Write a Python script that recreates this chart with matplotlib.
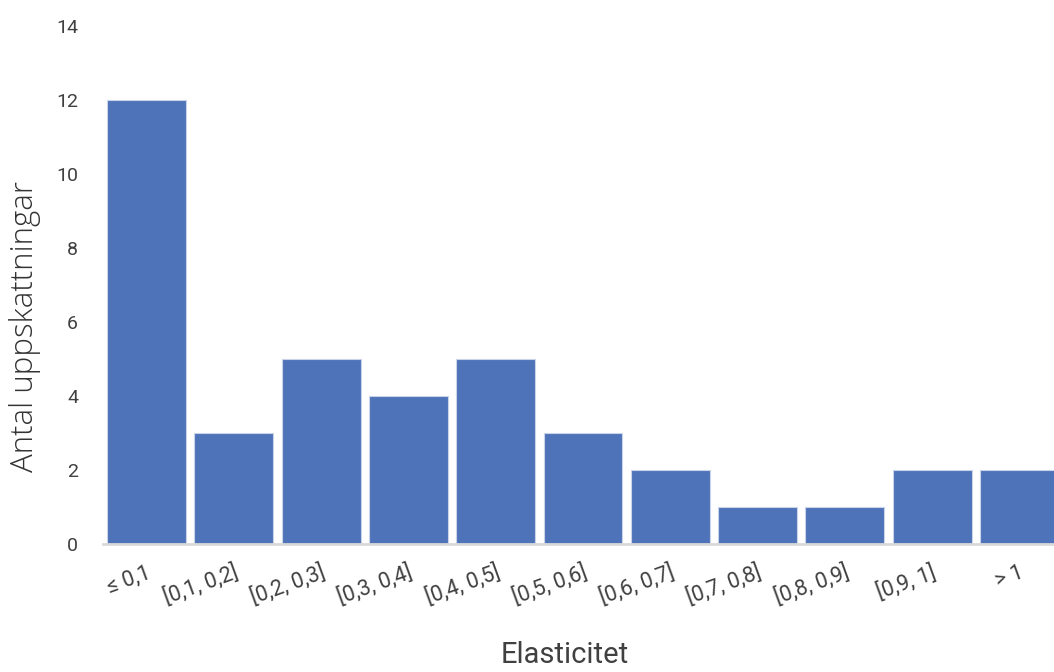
import matplotlib.pyplot as plt
import numpy as np

categories = ['≤ 0,1', '[0,1, 0,2]', '[0,2, 0,3]', '[0,3, 0,4]', '[0,4, 0,5]',
              '[0,5, 0,6]', '[0,6, 0,7]', '[0,7, 0,8]', '[0,8, 0,9]', '[0,9, 1]', '> 1']
counts = [12, 3, 5, 4, 5, 3, 2, 1, 1, 2, 2]

plt.rcParams['font.family'] = ['Roboto', 'DejaVu Sans']
txt = '#404040'

W, H = 1054, 672
fig = plt.figure(figsize=(W / 100, H / 100), dpi=100)
# plot area runs a bit past the right edge, so the last bar is cut off like in the original
left, right, bottom, top = 103, 1063, 544, 26
ax = fig.add_axes([left / W, 1 - bottom / H, (right - left) / W, (bottom - top) / H])

x = np.arange(len(categories))
ax.bar(x, counts, width=0.905, color='#4e73b8', edgecolor='#c9d3ea', linewidth=0.8, zorder=2)

ax.set_xlim(-0.5, len(categories) - 0.5)
ax.set_ylim(0, 14)
ax.set_yticks(range(0, 15, 2))
ax.tick_params(axis='y', length=0, pad=18, labelsize=14, labelcolor=txt)
ax.set_xticks(x)
ax.set_xticklabels(categories, rotation=20, ha='right', rotation_mode='anchor',
                   fontsize=15.5, color=txt)
ax.tick_params(axis='x', length=0, pad=13)

for side in ['top', 'right', 'left']:
    ax.spines[side].set_visible(False)
ax.spines['bottom'].set_color('#d9d9d9')
ax.spines['bottom'].set_linewidth(2)

ax.set_ylabel('Antal uppskattningar', fontsize=22.5, color='#333333',
              family=['Open Sans', 'DejaVu Sans'], fontweight='light', va='center')
ax.yaxis.set_label_coords((25 - left) / (right - left), (bottom - 326) / (bottom - top))
ax.set_xlabel('Elasticitet', fontsize=21, color=txt, va='center')
ax.xaxis.set_label_coords((565 - left) / (right - left), (bottom - 655) / (bottom - top))

fig.savefig('out.png', dpi=100)
